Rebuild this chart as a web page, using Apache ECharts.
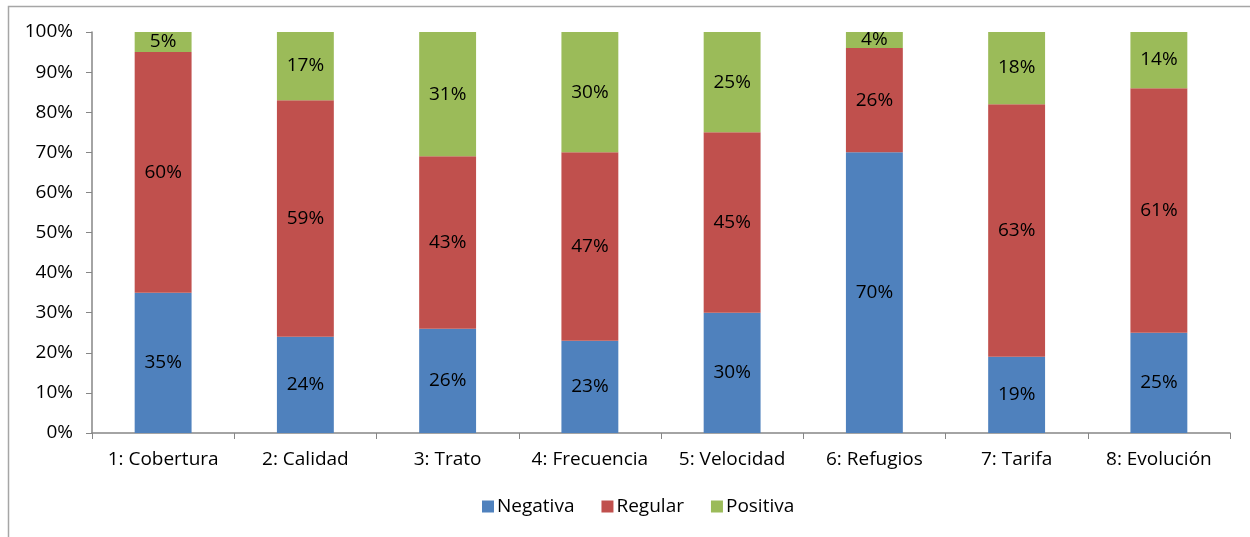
<!DOCTYPE html>
<html><head><meta charset="utf-8">
<script src="https://cdn.jsdelivr.net/npm/echarts@6/dist/echarts.min.js"></script>
<style>html,body{margin:0;padding:0;background:#fff}#c{width:1250px;height:537px}</style>
</head><body><div id="c"></div>
<script>
const categories = ['1: Cobertura','2: Calidad','3: Trato','4: Frecuencia','5: Velocidad','6: Refugios','7: Tarifa','8: Evolución'];
const negativa = [35,24,26,23,30,70,19,25];
const regular  = [60,59,43,47,45,26,63,61];
const positiva = [5,17,31,30,25,4,18,14];
const yTicks = [0,10,20,30,40,50,60,70,80,90,100];

const font = '"Open Sans", sans-serif';
const fs = 19;
const chart = echarts.init(document.getElementById('c'), null, {renderer:'canvas'});
function ser(name, data, color){
  return {name, type:'bar', stack:'t', data, barWidth:'40%',
    itemStyle:{color},
    label:{show:true, position:'inside', formatter:p=>p.value+'%', color:'#000', fontSize:fs, fontFamily:font},
    emphasis:{disabled:true}};
}
chart.setOption({
  animation:false,
  textStyle:{fontFamily:font},
  graphic:[{type:'rect', shape:{x:8.5,y:6.5,width:1260,height:560}, style:{fill:null, stroke:'#a6a6a6', lineWidth:1.5}, silent:true}],
  grid:{left:92, right:20, top:32, bottom:104},
  legend:{bottom:16, left:477, itemWidth:12, itemHeight:12, itemGap:27, icon:'rect',
    textStyle:{fontSize:fs, color:'#000', fontFamily:font, padding:[0,0,0,-2]},
    data:['Negativa','Regular','Positiva']},
  xAxis:{type:'category', data:categories,
    axisLine:{lineStyle:{color:'#868686', width:1.5}},
    axisTick:{show:true, length:6, lineStyle:{color:'#868686'}},
    axisLabel:{fontSize:fs, color:'#000', margin:17, fontFamily:font, interval:0}},
  yAxis:{type:'value', min:0, max:100, interval:10,
    axisLine:{show:true, lineStyle:{color:'#868686', width:1.5}},
    axisTick:{show:true, length:6, lineStyle:{color:'#868686'}},
    splitLine:{show:false},
    axisLabel:{fontSize:fs, color:'#000', margin:19, fontFamily:font,
      formatter:v=> yTicks.includes(v) ? v+'%' : ''}},
  series:[ser('Negativa',negativa,'#4F81BD'), ser('Regular',regular,'#C0504D'), ser('Positiva',positiva,'#9BBB59')]
});
</script></body></html>
